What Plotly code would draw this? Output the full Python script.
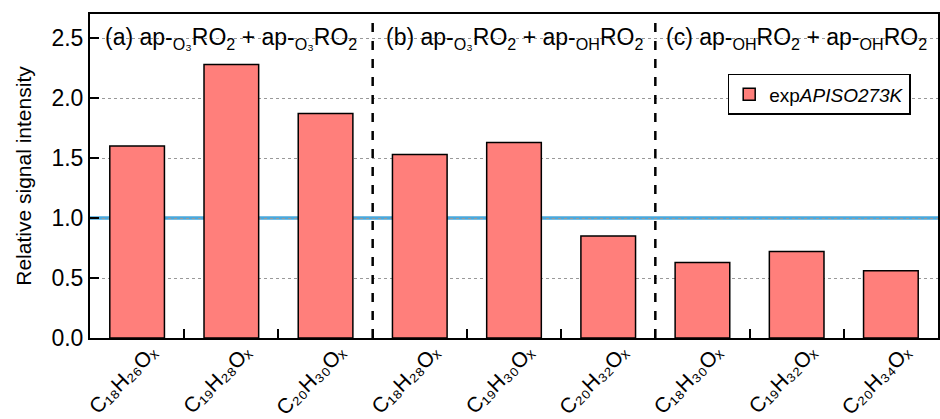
import plotly.graph_objects as go

categories = [
    "C₁₈H₂₆Oₓ",
    "C₁₉H₂₈Oₓ",
    "C₂₀H₃₀Oₓ",
    "C₁₈H₂₈Oₓ",
    "C₁₉H₃₀Oₓ",
    "C₂₀H₃₂Oₓ",
    "C₁₈H₃₀Oₓ",
    "C₁₉H₃₂Oₓ",
    "C₂₀H₃₄Oₓ",
]
values = [1.60, 2.28, 1.87, 1.53, 1.63, 0.85, 0.63, 0.72, 0.56]
series_name = "exp<i>APISO273K</i>"
panel_titles = [
    "(a) ap-<sub>O₃</sub>RO<sub>2</sub> + ap-<sub>O₃</sub>RO<sub>2</sub>",
    "(b) ap-<sub>O₃</sub>RO<sub>2</sub> + ap-<sub>OH</sub>RO<sub>2</sub>",
    "(c) ap-<sub>OH</sub>RO<sub>2</sub> + ap-<sub>OH</sub>RO<sub>2</sub>",
]
reference_level = 1.0
separators = [2.5, 5.5]
panel_centers = [1, 4, 7]

x = list(range(len(categories)))
FONT = "Liberation Sans, Arial"

fig = go.Figure()
fig.add_trace(go.Bar(
    x=x, y=values, name=series_name, width=0.58,
    marker=dict(color="#FF7F7B", line=dict(color="black", width=1.5)),
    showlegend=True,
))

# reference line
fig.add_shape(type="line", xref="paper", x0=0, x1=1, yref="y",
              y0=reference_level, y1=reference_level,
              line=dict(color="#4AA8DC", width=3.5), layer="below")
for s in separators:
    fig.add_shape(type="line", xref="x", x0=s, x1=s, yref="paper", y0=0, y1=1,
                  line=dict(color="black", width=2.5, dash="dash"), layer="above")

for cx, t in zip(panel_centers, panel_titles):
    fig.add_annotation(x=cx, y=2.5, xref="x", yref="y", text=t, showarrow=False,
                       font=dict(size=23, color="black", family=FONT),
                       xanchor="center", yanchor="middle")

fig.update_layout(
    width=940, height=419,
    margin=dict(l=90, r=2, t=14, b=81),
    plot_bgcolor="white", paper_bgcolor="white",
    font=dict(family=FONT, color="black"),
    legend=dict(x=0.752, y=0.815, xanchor="left", yanchor="top",
                bordercolor="black", borderwidth=1.5, bgcolor="white",
                font=dict(size=19), itemwidth=30),
)
fig.update_xaxes(
    range=[-0.5, len(categories) - 0.5], automargin=False,
    tickmode="array", tickvals=x, ticktext=categories, tickangle=-45,
    ticks="", tickfont=dict(size=21), ticklabelshift=14, ticklabelstandoff=-8,
    showline=True, linecolor="black", linewidth=2, mirror=True,
    showgrid=False, zeroline=False,
    minor=dict(tickmode="array", tickvals=[i + 0.5 for i in x[:-1]],
               ticks="inside", ticklen=9, tickwidth=1.5, tickcolor="black", showgrid=False),
)
fig.update_yaxes(
    range=[0, 2.7], automargin=False, tickvals=[0, 0.5, 1.0, 1.5, 2.0, 2.5],
    ticktext=["0.0", "0.5", "1.0", "1.5", "2.0", "2.5"],
    ticks="inside", ticklen=9, tickwidth=1.5, tickcolor="black",
    tickfont=dict(size=23),
    showline=True, linecolor="black", linewidth=2, mirror=True,
    showgrid=True, gridcolor="#999999", griddash="dot", gridwidth=1,
    zeroline=False,
    title=dict(text="Relative signal intensity", font=dict(size=21), standoff=14),
)

fig.write_html("out.html")
